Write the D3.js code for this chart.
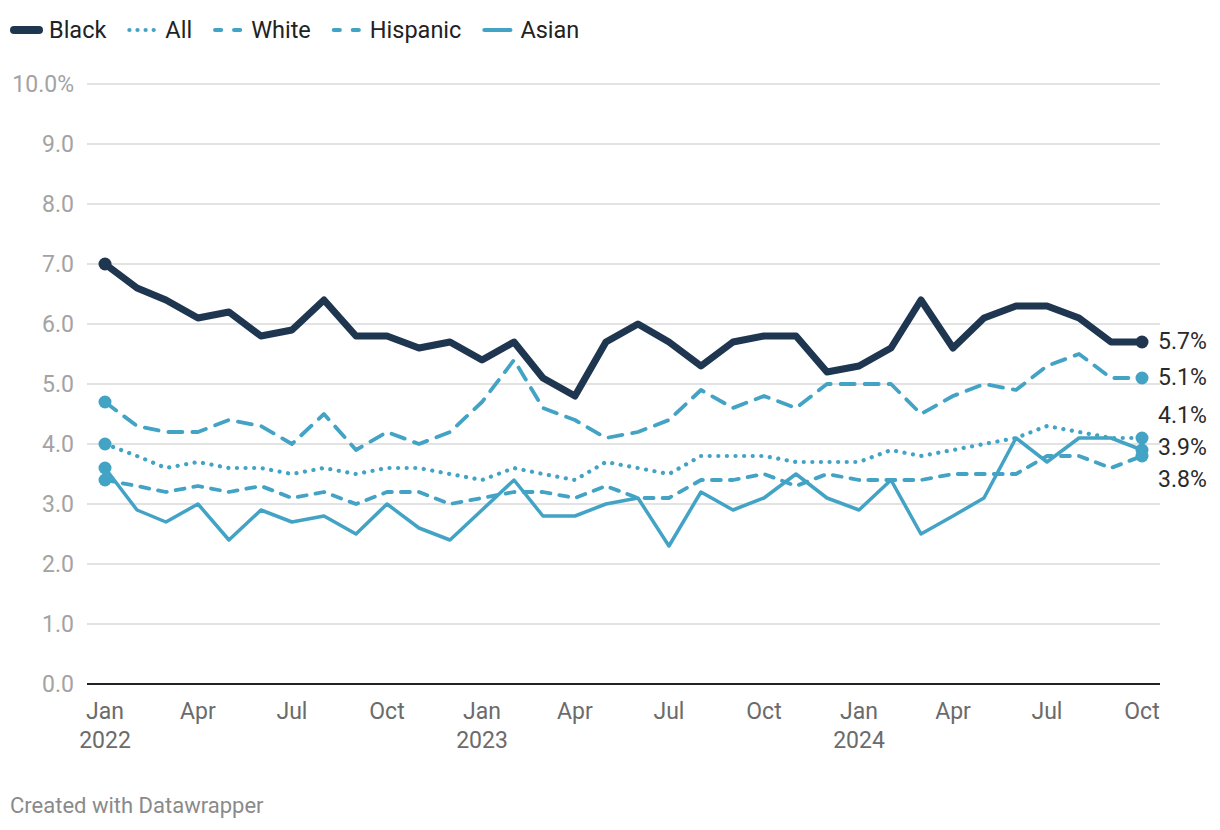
<!DOCTYPE html>
<html>
<head>
<meta charset="utf-8">
<script src="https://cdn.jsdelivr.net/npm/d3@7"></script>
<style>
  html, body { margin: 0; padding: 0; background: #fff; }
  svg { display: block; font-family: Roboto, "Noto Sans", sans-serif; }
</style>
</head>
<body>
<svg id="chart" width="1220" height="830"></svg>
<script>
const months = ["2022-01","2022-02","2022-03","2022-04","2022-05","2022-06","2022-07","2022-08","2022-09","2022-10","2022-11","2022-12",
  "2023-01","2023-02","2023-03","2023-04","2023-05","2023-06","2023-07","2023-08","2023-09","2023-10","2023-11","2023-12",
  "2024-01","2024-02","2024-03","2024-04","2024-05","2024-06","2024-07","2024-08","2024-09","2024-10"];

const black    = [7.0,6.6,6.4,6.1,6.2,5.8,5.9,6.4,5.8,5.8,5.6,5.7,5.4,5.7,5.1,4.8,5.7,6.0,5.7,5.3,5.7,5.8,5.8,5.2,5.3,5.6,6.4,5.6,6.1,6.3,6.3,6.1,5.7,5.7];
const all      = [4.0,3.8,3.6,3.7,3.6,3.6,3.5,3.6,3.5,3.6,3.6,3.5,3.4,3.6,3.5,3.4,3.7,3.6,3.5,3.8,3.8,3.8,3.7,3.7,3.7,3.9,3.8,3.9,4.0,4.1,4.3,4.2,4.1,4.1];
const white    = [3.4,3.3,3.2,3.3,3.2,3.3,3.1,3.2,3.0,3.2,3.2,3.0,3.1,3.2,3.2,3.1,3.3,3.1,3.1,3.4,3.4,3.5,3.3,3.5,3.4,3.4,3.4,3.5,3.5,3.5,3.8,3.8,3.6,3.8];
const hispanic = [4.7,4.3,4.2,4.2,4.4,4.3,4.0,4.5,3.9,4.2,4.0,4.2,4.7,5.4,4.6,4.4,4.1,4.2,4.4,4.9,4.6,4.8,4.6,5.0,5.0,5.0,4.5,4.8,5.0,4.9,5.3,5.5,5.1,5.1];
const asian    = [3.6,2.9,2.7,3.0,2.4,2.9,2.7,2.8,2.5,3.0,2.6,2.4,2.9,3.4,2.8,2.8,3.0,3.1,2.3,3.2,2.9,3.1,3.5,3.1,2.9,3.4,2.5,2.8,3.1,4.1,3.7,4.1,4.1,3.9];

const seriesNames = ["Black","All","White","Hispanic","Asian"];
const yTicks = [0,1,2,3,4,5,6,7,8,9,10];
const xTickMonths = ["2022-01","2022-04","2022-07","2022-10","2023-01","2023-04","2023-07","2023-10","2024-01","2024-04","2024-07","2024-10"];

const NAVY = "#1f3651", BLUE = "#43a3c5";
const styles = {
  Black:    {color: NAVY, width: 7, dash: null},
  All:      {color: BLUE, width: 4.2, dash: "0.1 8.5"},
  White:    {color: BLUE, width: 3.8, dash: "9 9"},
  Hispanic: {color: BLUE, width: 3.8, dash: "14 10"},
  Asian:    {color: BLUE, width: 3.5, dash: null}
};
const valuesByName = {Black: black, All: all, White: white, Hispanic: hispanic, Asian: asian};

const parse = d3.utcParse("%Y-%m");
const dates = months.map(parse);

const svg = d3.select("#chart");
const x = d3.scaleUtc().domain([dates[0], dates[dates.length-1]]).range([105, 1142]);
const y = d3.scaleLinear().domain([0, 10]).range([684, 84]);
const gridX0 = 87, gridX1 = 1160;

// gridlines
svg.append("g").selectAll("line").data(yTicks.filter(d => d !== 0)).join("line")
  .attr("x1", gridX0).attr("x2", gridX1)
  .attr("y1", d => y(d)).attr("y2", d => y(d))
  .attr("stroke", "#e3e3e3").attr("stroke-width", 2);

// y labels
svg.append("g").selectAll("text").data(yTicks).join("text")
  .attr("x", 74).attr("y", d => y(d)).attr("dy", "0.35em")
  .attr("text-anchor", "end").attr("fill", "#a3a3a3").attr("font-size", 23)
  .text(d => d === 10 ? d3.format(".1f")(d) + "%" : d3.format(".1f")(d));

// baseline
svg.append("line").attr("x1", gridX0).attr("x2", gridX1)
  .attr("y1", y(0)).attr("y2", y(0)).attr("stroke", "#222").attr("stroke-width", 2);

// x labels
const xl = svg.append("g").selectAll("text").data(xTickMonths.map(parse)).join("text")
  .attr("x", d => x(d)).attr("y", 719).attr("text-anchor", "middle")
  .attr("fill", "#6b6b6b").attr("font-size", 23);
xl.append("tspan").attr("x", d => x(d)).text(d => d3.utcFormat("%b")(d));
xl.filter(d => d.getUTCMonth() === 0).append("tspan").attr("x", d => x(d)).attr("dy", 29)
  .text(d => d3.utcFormat("%Y")(d));

// lines
const line = d3.line().x((d, i) => x(dates[i])).y(d => y(d));
const drawOrder = ["Asian","White","All","Hispanic","Black"];
drawOrder.forEach(name => {
  const s = styles[name];
  svg.append("path").datum(valuesByName[name])
    .attr("d", line).attr("fill", "none")
    .attr("stroke", s.color).attr("stroke-width", s.width)
    .attr("stroke-linejoin", "round").attr("stroke-linecap", "round")
    .attr("stroke-dasharray", s.dash);
});
// dots
drawOrder.forEach(name => {
  const v = valuesByName[name];
  const s = styles[name];
  svg.append("g").selectAll("circle").data([0, v.length - 1]).join("circle")
    .attr("cx", i => x(dates[i])).attr("cy", i => y(v[i])).attr("r", 6.5)
    .attr("fill", s.color);
});

// end labels with collision avoidance
const labels = seriesNames.map(name => {
  const v = valuesByName[name];
  return {name, value: v[v.length-1], y: y(v[v.length-1])};
}).sort((a, b) => a.y - b.y);
const minGap = 32;
let clusters = labels.map(l => ({items: [l], y0: l.y}));
let merged = true;
while (merged) {
  merged = false;
  for (let i = 0; i < clusters.length - 1; i++) {
    const a = clusters[i], b = clusters[i+1];
    const aEnd = a.y0 + (a.items.length - 1) * minGap;
    if (b.y0 - aEnd < minGap) {
      const items = a.items.concat(b.items);
      const mean = d3.mean(items, d => d.y);
      clusters.splice(i, 2, {items, y0: mean - (items.length - 1) * minGap / 2});
      merged = true; break;
    }
  }
}
clusters.forEach(c => c.items.forEach((it, k) => it.ly = c.y0 + k * minGap - 1.5));
svg.append("g").selectAll("text").data(labels).join("text")
  .attr("x", 1158).attr("y", d => d.ly).attr("dy", "0.35em")
  .attr("fill", "#2a2a2a").attr("font-size", 23)
  .text(d => d3.format(".1f")(d.value) + "%");

// legend
const lg = svg.append("g");
let lx = 11;
seriesNames.forEach(name => {
  const s = styles[name];
  lg.append("line").attr("x1", lx + (name === "Black" ? 3 : 2)).attr("x2", lx + 28).attr("y1", 30).attr("y2", 30)
    .attr("stroke", s.color).attr("stroke-width", name === "Black" ? 8 : 4.2)
    .attr("stroke-linecap", "round")
    .attr("stroke-dasharray", name === "All" ? "0.1 8" : (name === "White" || name === "Hispanic") ? "6 13" : null);
  const t = lg.append("text").attr("x", lx + 38).attr("y", 30).attr("dy", "0.35em")
    .attr("fill", "#222").attr("font-size", 23.5).text(name);
  lx += 38 + t.node().getComputedTextLength() + 21;
});

// footer
svg.append("text").attr("x", 10).attr("y", 813).attr("fill", "#8a8a8a").attr("font-size", 22)
  .text("Created with Datawrapper");
</script>
</body>
</html>
